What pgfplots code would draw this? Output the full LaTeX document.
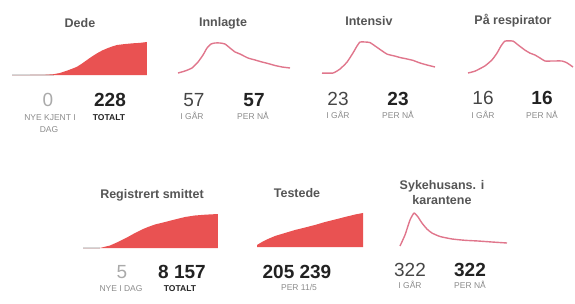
\documentclass[border=0pt]{standalone}
\usepackage{pgfplots}
\pgfplotsset{compat=1.18}
\usepackage{fontspec}
\setmainfont{Liberation Sans}
\definecolor{redfill}{RGB}{233,82,82}
\definecolor{linecol}{RGB}{224,118,140}
\definecolor{titlecol}{RGB}{85,85,85}
\definecolor{bigcol}{RGB}{34,34,34}
\definecolor{numcol}{RGB}{70,70,70}
\definecolor{lightnum}{RGB}{170,170,170}
\definecolor{labcol}{RGB}{140,140,140}
\definecolor{baseg}{RGB}{215,215,215}
\pgfplotsset{spark/.style={hide axis, scale only axis, clip=false, enlargelimits=false, anchor=south west}}
\newcommand{\ttl}{\fontsize{12.5bp}{15bp}\selectfont\bfseries\color{titlecol}}
\newcommand{\bign}{\fontsize{19bp}{21bp}\selectfont\bfseries\color{bigcol}}
\newcommand{\nrmn}{\fontsize{19bp}{21bp}\selectfont\color{numcol}}
\newcommand{\lgtn}{\fontsize{19bp}{21bp}\selectfont\color{lightnum}}
\newcommand{\lab}{\fontsize{8.5bp}{10bp}\selectfont\color{labcol}}
\newcommand{\labd}{\fontsize{8.5bp}{10bp}\selectfont\bfseries\color{bigcol}}
\begin{document}
\begin{tikzpicture}
\path[use as bounding box] (0,0) rectangle (575bp,-304bp);
% Dede
\begin{axis}[spark, at={(12bp,-75bp)}, width=135bp, height=35bp, xmin=0, xmax=70, ymin=0, ymax=241.8]
\addplot[baseg, line width=1.2bp] coordinates {(0,0.5) (22,0.5)};
\addplot[fill=redfill, draw=none] coordinates {
(0,0) (9.3,0) (17.1,1.4) (21.3,5) (24.9,14) (28.5,30) (31.1,43) (33.7,57) (36.3,79) (38.9,104) (41.5,128) (44.1,150) (46.7,169) (49.3,184) (51.9,197) (54.4,207) (58.6,214) (62.7,219) (66.4,222) (70,228)} \closedcycle;
\end{axis}
% Innlagte
\begin{axis}[spark, at={(178bp,-75bp)}, width=112bp, height=35bp, xmin=0, xmax=56, ymin=-18, ymax=357]
\addplot[linecol, line width=1.4bp, line join=round, smooth, tension=0.3] coordinates {
(0,3) (3.5,25) (7,57) (10,121) (12.5,196) (14.5,271) (16.5,314) (18.5,325) (21,325) (23.5,314) (26,271) (28.5,229) (31,207) (35,164) (38.5,143) (42,121) (45,105) (48.5,84) (52,68) (56,57)};
\end{axis}
% Intensiv
\begin{axis}[spark, at={(322bp,-75bp)}, width=113bp, height=35bp, xmin=0, xmax=56.5, ymin=-4.8, ymax=117]
\addplot[linecol, line width=1.4bp, line join=round, smooth, tension=0.3] coordinates {
(0,2) (5.5,2) (9,16) (12.5,40) (15.5,72) (17.5,96) (19,110) (21.5,110) (24,108) (28,89) (32.5,68) (36.5,61) (39,56) (42.5,51) (45.5,46) (49,37) (52.5,30) (56.5,23)};
\end{axis}
% Respirator
\begin{axis}[spark, at={(468bp,-75bp)}, width=105bp, height=35bp, xmin=0, xmax=52.5, ymin=-5.3, ymax=88]
\addplot[linecol, line width=1.4bp, line join=round, smooth, tension=0.3] coordinates {
(0,0) (3.5,5) (8.5,19) (12,35) (14.5,53) (16.5,72) (18.5,85) (22.5,85) (25,75) (28.5,61) (31,53) (33.5,48) (36,40) (38.5,32) (42,32) (47,32) (49.5,27) (52.5,16)};
\end{axis}
% Registrert smittet
\begin{axis}[spark, at={(83bp,-248bp)}, width=135bp, height=38bp, xmin=0, xmax=75, ymin=0, ymax=9116]
\addplot[baseg, line width=1.2bp] coordinates {(0,20) (9.4,20)};
\addplot[fill=redfill, draw=none] coordinates {
(0,0) (9.4,0) (15,600) (19.4,1440) (24.4,2520) (28.9,3600) (32.8,4440) (36.1,5040) (40,5640) (45.6,6240) (51.1,6840) (56.7,7440) (62.2,7800) (67.8,7990) (75,8157)} \closedcycle;
\end{axis}
% Testede
\begin{axis}[spark, at={(257bp,-248bp)}, width=106bp, height=38bp, xmin=0, xmax=60, ymin=-6036, ymax=223300]
\addplot[fill=redfill, draw=none] coordinates {
(0,12072) (2.8,30180) (6.2,48288) (10.2,66396) (15.8,84504) (21.5,102612) (27.2,117702) (32.8,132792) (38.5,150900) (44.2,165990) (49.8,181080) (55.5,196170) (60,205239)} \closedcycle;
\end{axis}
% Sykehusansatte i karantene
\begin{axis}[spark, at={(400bp,-248bp)}, width=107bp, height=38bp, xmin=0, xmax=60, ymin=0, ymax=2447]
\addplot[linecol, line width=1.4bp, line join=round, smooth, tension=0.3] coordinates {
(0,129) (2.8,837) (5.6,1803) (7.9,2254) (10.1,1996) (12.3,1610) (15.1,1224) (17.9,966) (22.4,741) (29.2,580) (36.4,496) (43.7,451) (51.6,386) (60,322)};
\end{axis}
% ---- text, top row
\node[anchor=base] at (80bp,-27bp) {\ttl Dede};
\node[anchor=base] at (223bp,-26bp) {\ttl Innlagte};
\node[anchor=base] at (369bp,-25bp) {\ttl Intensiv};
\node[anchor=base] at (513bp,-24bp) {\ttl På respirator};
\node[anchor=base] at (48bp,-106bp) {\lgtn 0};
\node[anchor=base] at (110bp,-106bp) {\bign 228};
\node[anchor=base] at (50bp,-120.5bp) {\lab NYE KJENT I};
\node[anchor=base] at (49bp,-132.5bp) {\lab DAG};
\node[anchor=base] at (109bp,-120.5bp) {\labd TOTALT};
\node[anchor=base] at (194bp,-106bp) {\nrmn 57};
\node[anchor=base] at (254bp,-106bp) {\bign 57};
\node[anchor=base] at (192bp,-119.5bp) {\lab I GÅR};
\node[anchor=base] at (253bp,-119.5bp) {\lab PER NÅ};
\node[anchor=base] at (338bp,-105bp) {\nrmn 23};
\node[anchor=base] at (398bp,-105bp) {\bign 23};
\node[anchor=base] at (338bp,-118.5bp) {\lab I GÅR};
\node[anchor=base] at (398bp,-118.5bp) {\lab PER NÅ};
\node[anchor=base] at (483bp,-104bp) {\nrmn 16};
\node[anchor=base] at (542bp,-104bp) {\bign 16};
\node[anchor=base] at (483bp,-118bp) {\lab I GÅR};
\node[anchor=base] at (542bp,-118bp) {\lab PER NÅ};
% ---- text, bottom row
\node[anchor=base] at (152bp,-198.3bp) {\ttl Registrert smittet};
\node[anchor=base] at (297bp,-197bp) {\ttl Testede};
\node[anchor=base] at (442bp,-189bp) {\ttl Sykehusans. i};
\node[anchor=base] at (442bp,-204bp) {\ttl karantene};
\node[anchor=base] at (122bp,-278bp) {\lgtn 5};
\node[anchor=base] at (182bp,-278bp) {\bign 8 157};
\node[anchor=base] at (121bp,-291.5bp) {\lab NYE I DAG};
\node[anchor=base] at (180bp,-291.5bp) {\labd TOTALT};
\node[anchor=base] at (297bp,-278bp) {\bign 205 239};
\node[anchor=base] at (299bp,-290.7bp) {\lab PER 11/5};
\node[anchor=base] at (410bp,-276bp) {\nrmn 322};
\node[anchor=base] at (470bp,-276bp) {\bign 322};
\node[anchor=base] at (410bp,-288.7bp) {\lab I GÅR};
\node[anchor=base] at (470bp,-288.7bp) {\lab PER NÅ};
\end{tikzpicture}
\end{document}
